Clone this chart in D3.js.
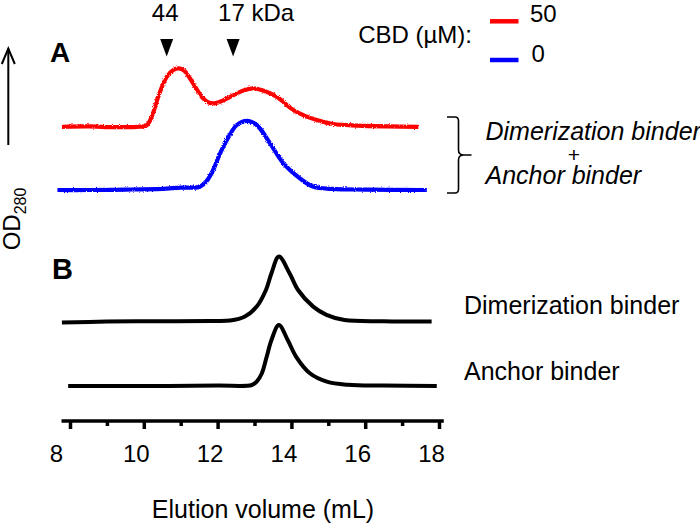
<!DOCTYPE html>
<html>
<head>
<meta charset="utf-8">
<script src="https://cdn.jsdelivr.net/npm/d3@7"></script>
<style>
  html, body { margin: 0; padding: 0; background: #fff; }
  svg { display: block; font-family: "Liberation Sans", Arial, sans-serif; }
</style>
</head>
<body>
<div id="chart"></div>
<script>
// ---------- data (elution volume in mL, signal above each trace's baseline) ----------
const redTrace = [[7.78,0],[8.5,0.1],[9.2,-0.1],[9.8,0],[10.08,0.4],[10.25,3.4],[10.39,7.5],[10.62,12.5],
  [10.8,14.2],[10.95,14.6],[11.1,14],[11.34,10.8],[11.57,7.5],[11.75,6.1],[11.88,5.85],[12.1,6.4],
  [12.43,7.9],[12.7,9.1],[12.97,9.6],[13.25,9.0],[13.6,7.5],[14.05,4.2],[14.4,2.6],[14.69,1.7],
  [15.14,0.7],[15.8,0.3],[16.6,0.1],[17.44,0]];
const blueTrace = [[7.66,0],[8.5,0],[9.5,0.1],[10.5,0.3],[11.0,0.6],[11.3,0.6],[11.52,0.8],[11.7,2.2],
  [11.88,5],[12.05,8.8],[12.25,12.5],[12.52,16.25],[12.79,17.3],[13.06,16.25],[13.42,11.7],[13.78,6.7],
  [14.23,2.9],[14.6,0.8],[15.1,0.3],[16,0.1],[17.67,0]];
const dimerTrace = [[7.78,-0.25],[9,0],[10.5,0.1],[11.8,0.15],[12.34,0.25],[12.74,1.25],[13.06,3.75],
  [13.31,7.9],[13.46,12.1],[13.66,16.25],[13.95,12.1],[14.18,7.9],[14.59,3.75],[14.95,1.7],[15.44,0.4],
  [16.5,0.1],[17.8,0]];
const anchorTrace = [[7.95,0],[10,0],[12,0.1],[12.93,0.25],[13.06,1.1],[13.2,3.2],[13.33,7.3],[13.46,11.5],
  [13.66,15.25],[13.9,11.5],[14.13,7.3],[14.5,3.2],[14.96,1.1],[15.53,0.3],[16.5,0.1],[17.94,0]];

// baseline of each trace (same units as signal)
const traceNames = ["red", "blue", "dimer", "anchor"];
const traceOffsets = [73.8, 58, 25.1, 9];

// size-exclusion standards (kDa) and their elution volume
const standardLabels = ["44", "17"];
const standardVolumes = [10.62, 12.42];

const majorTicks = [8, 10, 12, 14, 16, 18];
const minorTicks = [9, 11, 13, 15, 17];
const axisExtent = [7.77, 18.13];

const legendLabels = ["50", "0"];
const legendColors = ["#ff0000", "#0000ff"];

// ---------- setup ----------
const width = 700, height = 524;
const svg = d3.select("#chart").append("svg")
  .attr("width", width).attr("height", height);

const x = d3.scaleLinear().domain([8, 18]).range([70, 439]);
const y = d3.scaleLinear().domain([0, 100]).range([422, 22]);

// noisy detector trace look
const defs = svg.append("defs");
const noise = defs.append("filter").attr("id", "noisy")
  .attr("x", "-5%").attr("y", "-20%").attr("width", "110%").attr("height", "140%");
noise.append("feTurbulence").attr("type", "fractalNoise")
  .attr("baseFrequency", "0.9").attr("numOctaves", 1).attr("seed", 3).attr("result", "t");
noise.append("feDisplacementMap").attr("in", "SourceGraphic").attr("in2", "t")
  .attr("scale", 3).attr("xChannelSelector", "R").attr("yChannelSelector", "G");

const line = off => d3.line()
  .x(d => x(d[0]))
  .y(d => y(d[1] + off))
  .curve(d3.curveCatmullRom.alpha(0.5));

const traces = [redTrace, blueTrace, dimerTrace, anchorTrace];
const colors = ["#ff0000", "#0000ff", "#000", "#000"];

traces.forEach((t, i) => {
  svg.append("path")
    .datum(t)
    .attr("class", "trace-" + traceNames[i])
    .attr("fill", "none")
    .attr("stroke", colors[i])
    .attr("stroke-width", i < 2 ? 4.2 : 4)
    .attr("stroke-linejoin", "round")
    .attr("filter", i < 2 ? "url(#noisy)" : null)
    .attr("d", line(traceOffsets[i]));
});

// ---------- x axis ----------
const axisY = 421;
svg.append("line")
  .attr("x1", x(axisExtent[0])).attr("x2", x(axisExtent[1]))
  .attr("y1", axisY).attr("y2", axisY)
  .attr("stroke", "#000").attr("stroke-width", 3.5);

const gMinor = svg.append("g").attr("transform", `translate(0,${axisY})`)
  .call(d3.axisBottom(x).tickValues(minorTicks).tickSize(5).tickFormat(""));
const gMajor = svg.append("g").attr("transform", `translate(0,${axisY})`)
  .call(d3.axisBottom(x).tickValues(majorTicks).tickSize(8).tickPadding(16));

[gMinor, gMajor].forEach(g => {
  g.select(".domain").remove();
  g.selectAll(".tick line").attr("stroke", "#000").attr("stroke-width", 3.5);
});
gMajor.selectAll(".tick text")
  .attr("font-family", "Liberation Sans, Arial, sans-serif")
  .attr("font-size", 24)
  .attr("fill", "#000")
  .attr("dx", d => d === 8 ? -14 : -8);

svg.append("text")
  .attr("x", 263).attr("y", 518)
  .attr("text-anchor", "middle")
  .attr("font-size", 25)
  .text("Elution volume (mL)");

// ---------- y label with arrow ----------
svg.append("line")
  .attr("x1", 8.3).attr("x2", 8.3).attr("y1", 145).attr("y2", 48.5)
  .attr("stroke", "#000").attr("stroke-width", 2);
svg.append("path")
  .attr("d", "M1.8,64 L8.3,48.5 L14.8,64")
  .attr("fill", "none").attr("stroke", "#000").attr("stroke-width", 2);

const od = svg.append("text")
  .attr("transform", "translate(19.5,219) rotate(-90)")
  .attr("text-anchor", "middle")
  .attr("font-size", 24);
od.append("tspan").text("OD");
od.append("tspan").attr("font-size", 16).attr("dy", 6).text("280");

// ---------- standards markers ----------
standardVolumes.forEach((v, i) => {
  const cx = x(v);
  svg.append("path")
    .attr("d", `M${cx - 6.5},39 L${cx + 6.5},39 L${cx},56.5 Z`)
    .attr("fill", "#000");
});
svg.append("text")
  .attr("x", x(standardVolumes[0]) - 1.5).attr("y", 20.5)
  .attr("text-anchor", "middle").attr("font-size", 24)
  .text(standardLabels[0]);
svg.append("text")
  .attr("x", x(standardVolumes[1]) - 15).attr("y", 20.5)
  .attr("font-size", 24)
  .text(standardLabels[1] + " kDa");

// ---------- panel letters ----------
svg.append("text").attr("x", 50).attr("y", 62)
  .attr("font-size", 28).attr("font-weight", "bold").text("A");
svg.append("text").attr("x", 52).attr("y", 278.5)
  .attr("font-size", 29).attr("font-weight", "bold").text("B");

// ---------- legend ----------
svg.append("text")
  .attr("x", 472).attr("y", 43)
  .attr("text-anchor", "end").attr("font-size", 24)
  .text("CBD (\u00b5M):");
const legendY = [21.3, 60];
legendLabels.forEach((lab, i) => {
  svg.append("line")
    .attr("x1", 490).attr("x2", 518.5)
    .attr("y1", legendY[i]).attr("y2", legendY[i])
    .attr("stroke", legendColors[i]).attr("stroke-width", 4.5);
  svg.append("text")
    .attr("x", 530 + i * 1.5).attr("y", legendY[i] + (i === 0 ? 0.5 : 2))
    .attr("font-size", 24)
    .text(lab);
});

// ---------- panel A bracket + labels ----------
svg.append("path")
  .attr("d", "M447,117 L455,117 Q458.5,117 458.5,121 L458.5,150 Q458.5,155 464,155 L471.5,155 " +
             "M464,155 Q458.5,155 458.5,160 L458.5,189 Q458.5,193 455,193 L447,193")
  .attr("fill", "none").attr("stroke", "#000").attr("stroke-width", 1.6);

svg.append("text").attr("x", 485.5).attr("y", 139.5)
  .attr("font-size", 25).attr("font-style", "italic").text("Dimerization binder");
// "+" drawn as a plain glyph between the two lines
svg.append("text").attr("x", 574).attr("y", 161.5)
  .attr("text-anchor", "middle").attr("font-size", 21).text("+");
svg.append("text").attr("x", 485.5).attr("y", 183.5)
  .attr("font-size", 25).attr("font-style", "italic").text("Anchor binder");

// ---------- panel B labels ----------
svg.append("text").attr("x", 464).attr("y", 313.5)
  .attr("font-size", 25).text("Dimerization binder");
svg.append("text").attr("x", 464).attr("y", 380)
  .attr("font-size", 25).text("Anchor binder");
</script>
</body>
</html>
